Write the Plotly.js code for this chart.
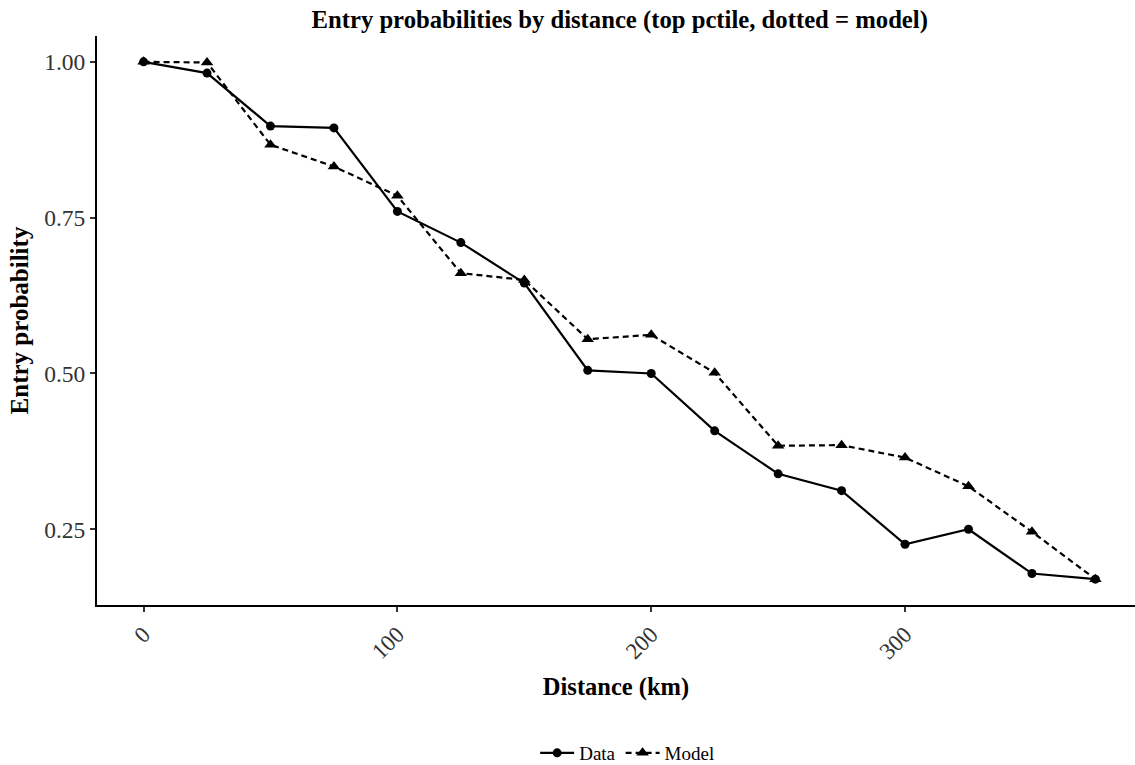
<!DOCTYPE html>
<html>
<head>
<meta charset="utf-8">
<script src="https://cdn.plot.ly/plotly-3.0.1.min.js"></script>
<style>html,body{margin:0;padding:0;background:#fff;}#chart{width:1135px;height:765px;}</style>
</head>
<body>
<div id="chart"></div>
<script>
const distance = [0, 25, 50, 75, 100, 125, 150, 175, 200, 225, 250, 275, 300, 325, 350, 375];
const dataProb = [1.000, 0.982, 0.897, 0.894, 0.760, 0.710, 0.645, 0.505, 0.500, 0.408, 0.339, 0.312, 0.226, 0.250, 0.179, 0.170];
const modelProb = [1.000, 0.999, 0.867, 0.832, 0.785, 0.661, 0.650, 0.555, 0.562, 0.501, 0.384, 0.385, 0.365, 0.319, 0.246, 0.170];
const xTicks = [0, 100, 200, 300];
const yTicks = [0.25, 0.50, 0.75, 1.00];
const yTickLabels = ["0.25", "0.50", "0.75", "1.00"];

const serif = "Liberation Serif, Times New Roman, serif";

const traces = [
  {
    x: distance, y: dataProb, name: "Data", type: "scatter", mode: "lines+markers",
    line: {color: "#000", width: 2.2, dash: "solid"},
    marker: {symbol: "circle", size: 9, color: "#000"}
  },
  {
    x: distance, y: modelProb, name: "Model", type: "scatter", mode: "lines+markers",
    line: {color: "#000", width: 2.2, dash: "6px,4px"},
    marker: {symbol: "triangle-up", size: 11, color: "#000"}
  }
];

const layout = {
  width: 1135, height: 765,
  margin: {l: 97, r: 0, t: 36, b: 160},
  paper_bgcolor: "#fff", plot_bgcolor: "#fff",
  font: {family: serif, color: "#000"},
  title: {
    text: "<b>Entry probabilities by distance (top pctile, dotted = model)</b>",
    font: {family: serif, size: 24.7, color: "#000"},
    xref: "container", x: 0.546, xanchor: "center",
    yref: "container", y: 0.975, yanchor: "middle"
  },
  xaxis: {
    range: [-18.35, 390.6],
    tickvals: xTicks, ticktext: xTicks.map(String),
    tickangle: -45,
    ticks: "outside", ticklen: 5, tickwidth: 2, tickcolor: "#333",
    tickfont: {family: serif, size: 23, color: "#333"},
    showline: true, linecolor: "#000", linewidth: 2,
    showgrid: false, zeroline: false,
    title: {text: "<b>Distance (km)</b>", font: {family: serif, size: 24.5, color: "#000"}, standoff: 15}
  },
  yaxis: {
    range: [0.1285, 1.0415],
    tickvals: yTicks, ticktext: yTickLabels,
    ticks: "outside", ticklen: 5, tickwidth: 2, tickcolor: "#333",
    tickfont: {family: serif, size: 23.5, color: "#333"},
    showline: true, linecolor: "#000", linewidth: 2,
    showgrid: false, zeroline: false,
    title: {text: "<b>Entry probability</b>", font: {family: serif, size: 25, color: "#000"}, standoff: 8}
  },
  showlegend: true,
  legend: {
    orientation: "h", xref: "container", x: 0.553, xanchor: "center",
    yref: "container", y: 1 - 753 / 765, yanchor: "middle",
    font: {family: serif, size: 19, color: "#000"},
    itemwidth: 34, tracegroupgap: 0
  }
};

Plotly.newPlot("chart", traces, layout, {displayModeBar: false, staticPlot: true});
</script>
</body>
</html>
